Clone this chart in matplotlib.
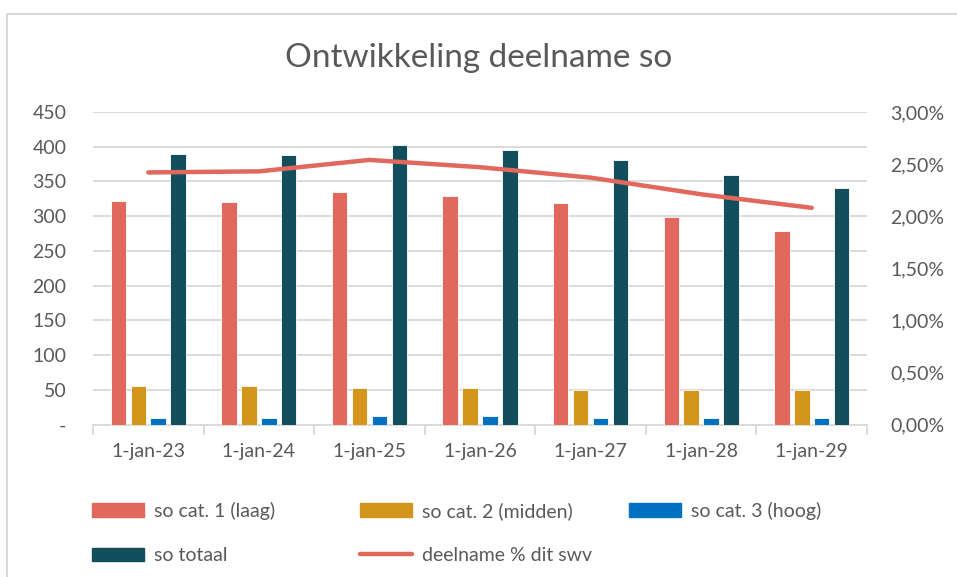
import numpy as np
import matplotlib
matplotlib.use("Agg")
import matplotlib.pyplot as plt
from matplotlib.patches import Rectangle, Patch
from matplotlib.lines import Line2D
from matplotlib.ticker import FuncFormatter, FixedLocator

plt.rcParams["font.family"] = ["Lato", "DejaVu Sans"]

# ------------------------------------------------------------------ data
CATEGORIES = ["1-jan-23", "1-jan-24", "1-jan-25", "1-jan-26", "1-jan-27", "1-jan-28", "1-jan-29"]
SO_CAT1 = [322, 321, 335, 329, 319, 299, 279]
SO_CAT2 = [56, 55, 53, 53, 50, 49, 49]
SO_CAT3 = [9, 10, 12, 12, 10, 10, 10]
SO_TOTAAL = [390, 388, 402, 396, 381, 360, 340]
DEELNAME_PCT = [2.42, 2.43, 2.54, 2.47, 2.37, 2.21, 2.08]   # percent

LABELS = ["so cat. 1 (laag)", "so cat. 2 (midden)", "so cat. 3 (hoog)", "so totaal",
          "deelname % dit swv"]

# ------------------------------------------------------------------ style
TXT = "#595959"
GRID = "#d9d9d9"
C_CAT1, C_CAT2, C_CAT3, C_TOT = "#e0685c", "#d4951c", "#0070c0", "#124e5c"
C_LINE = "#e0685c"
FS = 14

fig = plt.figure(figsize=(9.57, 5.77), dpi=100)
ax = fig.add_axes([93 / 957, 1 - 424.5 / 577, (867 - 93) / 957, (424.5 - 112) / 577])
ax2 = ax.twinx()

x = np.arange(len(CATEGORIES))
w, step = 0.14, 0.18
offs = [-1.5 * step, -0.5 * step, 0.5 * step, 1.5 * step]
series = [(SO_CAT1, C_CAT1), (SO_CAT2, C_CAT2), (SO_CAT3, C_CAT3), (SO_TOTAAL, C_TOT)]
for (vals, col), off in zip(series, offs):
    ax.bar(x + off, vals, width=w, color=col, edgecolor="white", linewidth=0.6, zorder=3)

ax2.plot(x, np.array(DEELNAME_PCT) / 100, color=C_LINE, lw=3.2,
         solid_capstyle="round", solid_joinstyle="round", zorder=4)

# left axis
ax.set_xlim(-0.5, len(CATEGORIES) - 0.5)
ax.set_ylim(0, 450)
ax.set_yticks(np.arange(0, 451, 50))
ax.yaxis.set_major_formatter(FuncFormatter(lambda v, p: "-" if v == 0 else f"{v:.0f}"))
ax.grid(axis="y", color=GRID, lw=1.3, zorder=0)
ax.set_axisbelow(True)
for s in ("top", "right", "left"):
    ax.spines[s].set_visible(False)
ax.spines["bottom"].set_color(GRID)
ax.spines["bottom"].set_linewidth(1.3)
ax.tick_params(axis="y", length=0, pad=19, labelsize=FS, labelcolor=TXT)

# x ticks: labels at centres, marks at boundaries
ax.set_xticks(x)
ax.set_xticklabels(CATEGORIES)
ax.tick_params(axis="x", which="major", length=0, pad=13, labelsize=FS, labelcolor=TXT)
ax.xaxis.set_minor_locator(FixedLocator(np.arange(-0.5, len(CATEGORIES), 1.0)))
ax.tick_params(axis="x", which="minor", length=7, width=1.3, color=GRID)

# right axis
ax2.set_ylim(0, 0.03)
ax2.set_yticks(np.arange(0, 0.0301, 0.005))
ax2.yaxis.set_major_formatter(FuncFormatter(lambda v, p: f"{v*100:.2f}%".replace(".", ",")))
for s in ax2.spines.values():
    s.set_visible(False)
ax2.tick_params(axis="y", length=0, pad=17, labelsize=FS, labelcolor=TXT)

fig.text(0.5, 1 - 58 / 577, "Ontwikkeling deelname so", ha="center", va="center",
         fontsize=24, color=TXT)

# legend: three fixed columns, row 1 = categories, row 2 = totaal + line
handles = [Patch(color=C_CAT1), Patch(color=C_CAT2), Patch(color=C_CAT3),
           Patch(color=C_TOT), Line2D([], [], color=C_LINE, lw=3.2, solid_capstyle="round")]
columns = [[0, 3], [1, 4], [2]]
col_x = [92, 360, 629]
for idx, cx in zip(columns, col_x):
    fig.legend([handles[i] for i in idx], [LABELS[i] for i in idx],
               loc="upper left", bbox_to_anchor=(cx / 957, 1 - 502 / 577),
               borderaxespad=0, borderpad=0,
               frameon=False, fontsize=FS, labelcolor=TXT,
               handlelength=2.67, handleheight=0.7, handletextpad=0.5,
               labelspacing=1.4)

# chart border (cropped on the right and bottom, like the source)
fig.patches.append(Rectangle((7 / 957, -0.05), 1.0, 1 - 14 / 577 + 0.05,
                             transform=fig.transFigure, fill=False,
                             edgecolor=GRID, lw=1.5))

fig.savefig("out.png", dpi=100)
